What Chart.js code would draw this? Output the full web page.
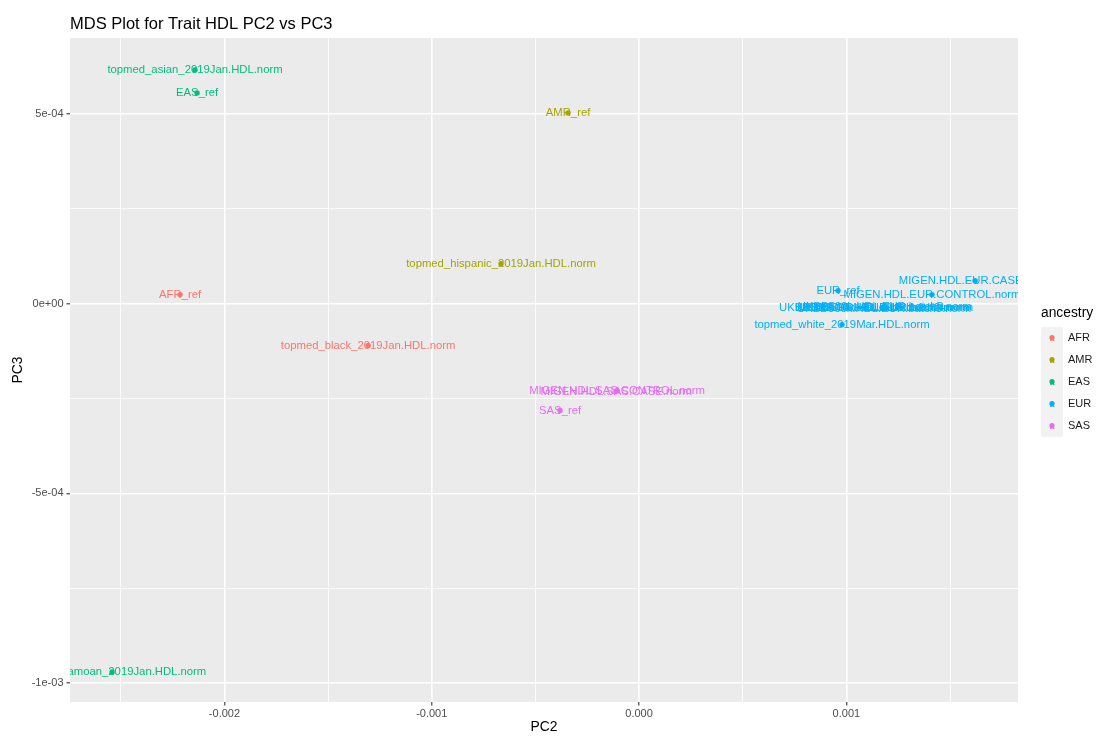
<!DOCTYPE html>
<html>
<head>
<meta charset="utf-8">
<title>MDS Plot for Trait HDL PC2 vs PC3</title>
<script src="https://cdn.jsdelivr.net/npm/chart.js@4.4.1/dist/chart.umd.min.js"></script>
<style>
  html, body { margin: 0; padding: 0; background: #ffffff; }
  #wrap { width: 1096px; height: 736px; }
</style>
</head>
<body>
<div id="wrap"><canvas id="mds" width="1096" height="736"></canvas></div>
<script>
// ---- groups ----
const ancestries = ['AFR', 'AMR', 'EAS', 'EUR', 'SAS'];
const ancestryColors = ['#F8766D', '#A3A500', '#00BF7D', '#00B0F6', '#E76BF3'];

// ---- samples per ancestry (PC2, PC3) ----
const afrNames = ['AFR_ref', 'topmed_black_2019Jan.HDL.norm'];
const afrPC2 = [-0.002214, -0.001307];
const afrPC3 = [0.0000237, -0.0001105];

const amrNames = ['AMR_ref', 'topmed_hispanic_2019Jan.HDL.norm'];
const amrPC2 = [-0.0003425, -0.0006657];
const amrPC3 = [0.0005026, 0.0001053];

const easNames = ['topmed_asian_2019Jan.HDL.norm', 'EAS_ref', 'topmed_samoan_2019Jan.HDL.norm'];
const easPC2 = [-0.002142, -0.002132, -0.002542];
const easPC3 = [0.0006158, 0.0005553, -0.0009711];

const eurNames = ['EUR_ref', 'MIGEN.HDL.EUR.CASE.norm', 'MIGEN.HDL.EUR.CONTROL.norm',
  'topmed_white_2019Mar.HDL.norm', 'UKBB500k.HDL.EUR.batch1.norm', 'UKBB500k.HDL.EUR.batch2.norm',
  'UKBB500k.HDL.EUR.batch3.norm', 'UKBB500k.HDL.EUR.batch4.norm', 'UKBB500k.HDL.EUR.batch5.norm'];
const eurPC2 = [0.000960, 0.001621, 0.001413, 0.000979, 0.001095, 0.001172, 0.001182, 0.001192, 0.001185];
const eurPC3 = [0.0000342, 0.0000605, 0.0000237, -0.0000553, -0.0000105, -0.0000105, -0.0000130, -0.0000105, -0.0000080];

const sasNames = ['MIGEN.HDL.SAS.CONTROL.norm', 'MIGEN.HDL.SAS.CASE.norm', 'SAS_ref'];
const sasPC2 = [-0.000106, -0.000111, -0.000381];
const sasPC3 = [-0.000229, -0.0002316, -0.0002816];

// ---- axes ----
const xMin = -0.002745, xMax = 0.001828;
const yMin = -0.00105, yMax = 0.0007;
const xTickValues = [-0.002, -0.001, 0, 0.001];
const xTickLabels = ['-0.002', '-0.001', '0.000', '0.001'];
const xMinorValues = [-0.0025, -0.0015, -0.0005, 0.0005, 0.0015];
const yTickValues = [-0.001, -0.0005, 0, 0.0005];
const yTickLabels = ['-1e-03', '-5e-04', '0e+00', '5e-04'];
const yMinorValues = [-0.00075, -0.00025, 0.00025];

const FONT = '"Liberation Sans", Arial, Helvetica, sans-serif';
const CHART_TITLE = 'MDS Plot for Trait HDL PC2 vs PC3';
const LEGEND_TITLE = 'ancestry';

function toPoints(names, xs, ys) {
  return names.map((n, i) => ({ x: xs[i], y: ys[i], name: n }));
}

const groups = [
  [afrNames, afrPC2, afrPC3],
  [amrNames, amrPC2, amrPC3],
  [easNames, easPC2, easPC3],
  [eurNames, eurPC2, eurPC3],
  [sasNames, sasPC2, sasPC3]
];

const datasets = groups.map((g, i) => ({
  label: ancestries[i],
  data: toPoints(g[0], g[1], g[2]),
  backgroundColor: ancestryColors[i],
  borderColor: ancestryColors[i],
  borderWidth: 0,
  pointRadius: 2.7,
  pointHoverRadius: 2.7,
  pointStyle: 'circle'
}));

function allTicks(major, minor) {
  return major.concat(minor).sort((a, b) => a - b).map(v => ({ value: v }));
}

// grey panel behind the grid
const panelBackground = {
  id: 'panelBackground',
  beforeDraw(chart) {
    const { ctx, chartArea: a } = chart;
    ctx.save();
    ctx.fillStyle = '#ffffff';
    ctx.fillRect(0, 0, chart.width, chart.height);
    ctx.fillStyle = '#EBEBEB';
    ctx.fillRect(a.left, a.top, a.right - a.left, a.bottom - a.top);
    ctx.restore();
  }
};

// sample names centred on each point, under the dots
const pointNames = {
  id: 'pointNames',
  beforeDatasetsDraw(chart) {
    const { ctx, chartArea: a } = chart;
    ctx.save();
    ctx.beginPath();
    ctx.rect(a.left, a.top, a.right - a.left, a.bottom - a.top);
    ctx.clip();
    ctx.font = '11.3px ' + FONT;
    ctx.textAlign = 'center';
    ctx.textBaseline = 'middle';
    chart.data.datasets.forEach((ds, di) => {
      const meta = chart.getDatasetMeta(di);
      ctx.fillStyle = ds.borderColor;
      meta.data.forEach((el, i) => {
        ctx.fillText(ds.data[i].name, el.x, el.y);
      });
    });
    ctx.restore();
  }
};

// title and ancestry key
const titleAndKey = {
  id: 'titleAndKey',
  afterDraw(chart) {
    const { ctx, chartArea: a } = chart;
    ctx.save();
    ctx.fillStyle = '#000000';
    ctx.font = '16.5px ' + FONT;
    ctx.textAlign = 'left';
    ctx.textBaseline = 'alphabetic';
    ctx.fillText(CHART_TITLE, a.left, 29);

    const keyLeft = a.right + 23;
    const keySize = 22;
    const firstTop = 327;
    ctx.font = '13.8px ' + FONT;
    ctx.textBaseline = 'middle';
    ctx.fillText(LEGEND_TITLE, keyLeft, 313);

    ancestries.forEach((name, i) => {
      const top = firstTop + i * keySize;
      const cx = keyLeft + keySize / 2;
      const cy = top + keySize / 2;
      ctx.fillStyle = '#F2F2F2';
      ctx.fillRect(keyLeft, top, keySize, keySize);
      ctx.fillStyle = ancestryColors[i];
      ctx.font = 'bold 8.5px ' + FONT;
      ctx.textAlign = 'center';
      ctx.fillText('a', cx, cy + 0.5);
      ctx.beginPath();
      ctx.arc(cx, cy - 0.5, 2.6, 0, Math.PI * 2);
      ctx.fill();
      ctx.fillStyle = '#1A1A1A';
      ctx.font = '11px ' + FONT;
      ctx.textAlign = 'left';
      ctx.fillText(name, keyLeft + keySize + 5, cy);
    });
    ctx.restore();
  }
};

const gridWidth = major => ctx => (ctx.tick && major.includes(ctx.tick.value)) ? 1.6 : 0.8;
const tickColour = major => ctx => (ctx.tick && major.includes(ctx.tick.value)) ? '#333333' : 'rgba(0,0,0,0)';

new Chart(document.getElementById('mds'), {
  type: 'scatter',
  data: { datasets },
  plugins: [panelBackground, pointNames, titleAndKey],
  options: {
    responsive: false,
    devicePixelRatio: 1,
    animation: false,
    events: [],
    layout: { padding: { top: 38, right: 78, left: 0, bottom: 0 } },
    plugins: {
      legend: { display: false },
      title: { display: false },
      tooltip: { enabled: false }
    },
    scales: {
      x: {
        type: 'linear',
        min: xMin,
        max: xMax,
        afterBuildTicks(scale) { scale.ticks = allTicks(xTickValues, xMinorValues); },
        afterFit(scale) { scale.height = 34; },
        border: { display: false },
        grid: {
          color: '#FFFFFF',
          lineWidth: gridWidth(xTickValues),
          drawTicks: true,
          tickLength: 3.5,
          tickWidth: 1.1,
          tickColor: tickColour(xTickValues)
        },
        ticks: {
          autoSkip: false,
          maxRotation: 0,
          padding: 2,
          color: '#4D4D4D',
          font: { family: FONT, size: 11 },
          callback(v) {
            const i = xTickValues.indexOf(v);
            return i >= 0 ? xTickLabels[i] : '';
          }
        },
        title: {
          display: true,
          text: 'PC2',
          color: '#000000',
          font: { family: FONT, size: 13.9 },
          padding: { top: 0, bottom: 0 }
        }
      },
      y: {
        type: 'linear',
        min: yMin,
        max: yMax,
        afterBuildTicks(scale) { scale.ticks = allTicks(yTickValues, yMinorValues); },
        afterFit(scale) { scale.width = 70; },
        border: { display: false },
        grid: {
          color: '#FFFFFF',
          lineWidth: gridWidth(yTickValues),
          drawTicks: true,
          tickLength: 3.5,
          tickWidth: 1.1,
          tickColor: tickColour(yTickValues)
        },
        ticks: {
          autoSkip: false,
          padding: 3,
          color: '#4D4D4D',
          font: { family: FONT, size: 11 },
          callback(v) {
            const i = yTickValues.indexOf(v);
            return i >= 0 ? yTickLabels[i] : '';
          }
        },
        title: {
          display: true,
          text: 'PC3',
          color: '#000000',
          font: { family: FONT, size: 13.9 },
          padding: { top: 10, bottom: 0 }
        }
      }
    }
  }
});
</script>
</body>
</html>
